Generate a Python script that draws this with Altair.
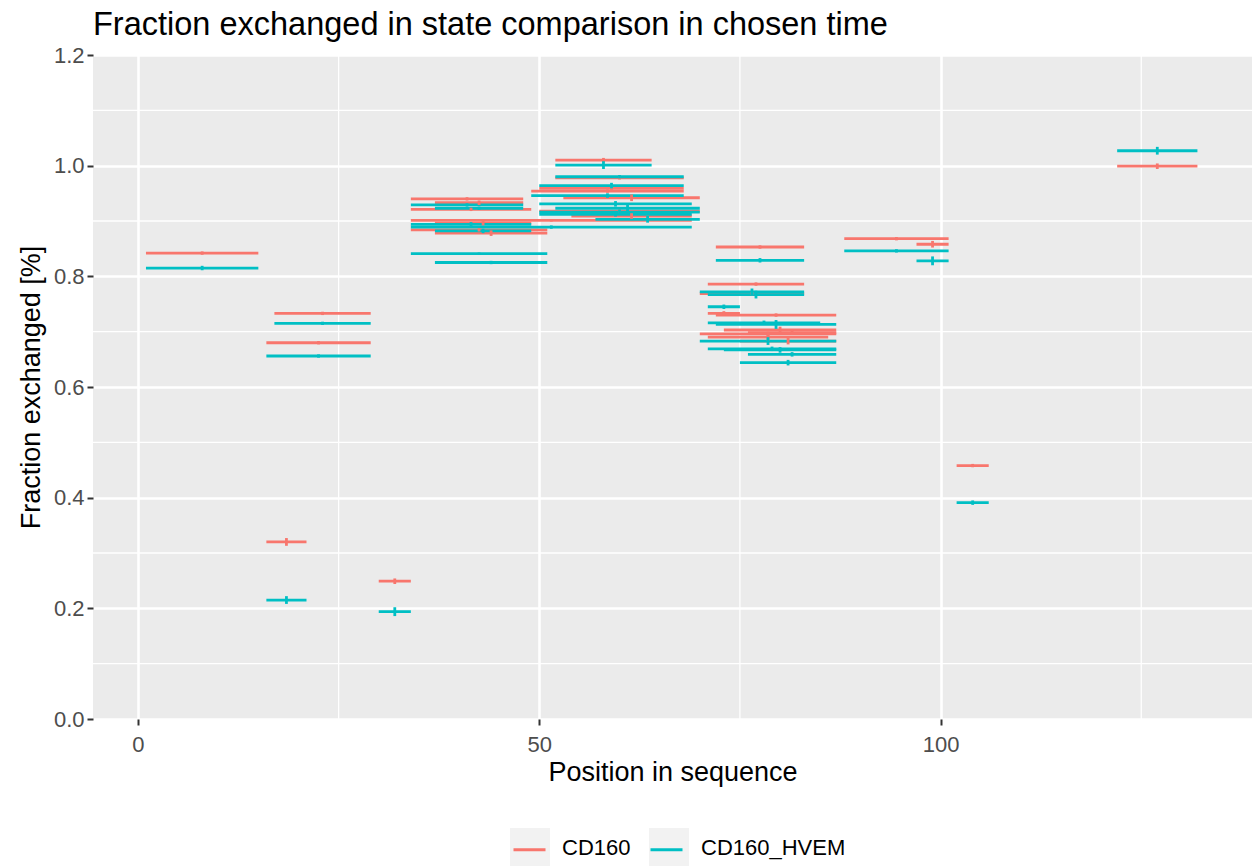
import altair as alt
import pandas as pd

title_text = "Fraction exchanged in state comparison in chosen time"
states = ["CD160", "CD160_HVEM"]
colors = ["#F8766D", "#00BFC4"]

# CD160 peptides: start, end, fraction exchanged, error
start_cd160 = [1, 17, 16, 16, 30, 34, 37, 34, 34, 37, 34, 37, 52, 52, 50, 49, 53, 50, 54,
               72, 71, 70, 71, 72, 73, 70, 76, 71, 75, 88, 97, 102, 122]
end_cd160 = [15, 29, 29, 21, 34, 48, 48, 49, 69, 49, 51, 51, 64, 68, 68, 68, 70, 70, 69,
             83, 83, 83, 75, 87, 87, 87, 87, 86, 87, 101, 101, 106, 132]
val_cd160 = [0.842, 0.733, 0.680, 0.320, 0.249, 0.940, 0.933, 0.921, 0.901, 0.896, 0.884, 0.878,
             1.010, 0.978, 0.959, 0.954, 0.942, 0.918, 0.909,
             0.853, 0.786, 0.769, 0.733, 0.730, 0.703, 0.696, 0.698, 0.690, 0.683,
             0.868, 0.858, 0.458, 0.999]
err_cd160 = [0.003, 0.003, 0.003, 0.007, 0.005, 0.003, 0.004, 0.003, 0.002, 0.004, 0.003, 0.005,
             0.004, 0.003, 0.003, 0.003, 0.006, 0.003, 0.005,
             0.003, 0.003, 0.003, 0.004, 0.003, 0.006, 0.004, 0.004, 0.007, 0.006,
             0.003, 0.006, 0.003, 0.005]

# CD160_HVEM peptides
start_hvem = [1, 17, 16, 16, 30, 34, 37, 34, 34, 37, 34, 37, 52, 52, 50, 49, 52, 50, 50, 50, 57,
              72, 70, 71, 71, 71, 72, 70, 71, 73, 76, 75, 88, 97, 102, 122]
end_hvem = [15, 29, 29, 21, 34, 48, 48, 49, 69, 49, 51, 51, 64, 68, 68, 68, 70, 70, 69, 69, 70,
            83, 83, 83, 75, 85, 87, 87, 87, 87, 87, 87, 101, 101, 106, 132]
val_hvem = [0.815, 0.715, 0.656, 0.215, 0.194, 0.929, 0.923, 0.894, 0.889, 0.882, 0.841, 0.825,
            1.001, 0.980, 0.964, 0.946, 0.923, 0.916, 0.931, 0.912, 0.903,
            0.829, 0.772, 0.767, 0.745, 0.716, 0.713, 0.683, 0.669, 0.667, 0.659, 0.644,
            0.846, 0.828, 0.391, 1.027]
err_hvem = [0.004, 0.003, 0.003, 0.007, 0.008, 0.003, 0.003, 0.004, 0.003, 0.004, 0.002, 0.003,
            0.007, 0.003, 0.005, 0.004, 0.006, 0.005, 0.005, 0.004, 0.006,
            0.004, 0.006, 0.007, 0.004, 0.004, 0.008, 0.007, 0.004, 0.005, 0.004, 0.005,
            0.003, 0.008, 0.004, 0.007]

x_ticks = [0, 50, 100]
y_ticks = [0.0, 0.2, 0.4, 0.6, 0.8, 1.0, 1.2]
minor_x = [25, 75, 125]
minor_y = [0.1, 0.3, 0.5, 0.7, 0.9, 1.1]

frames = []
for name, st, en, va, er in [
    (states[0], start_cd160, end_cd160, val_cd160, err_cd160),
    (states[1], start_hvem, end_hvem, val_hvem, err_hvem),
]:
    d = pd.DataFrame({"start": st, "end": en, "value": va, "err": er})
    d["state"] = name
    frames.append(d)
df = pd.concat(frames, ignore_index=True)
df["mid"] = (df["start"] + df["end"]) / 2
df["lo"] = df["value"] - df["err"]
df["hi"] = df["value"] + df["err"]
df["key"] = df["state"]

FONT = "Liberation Sans"
xscale = alt.Scale(domain=[-5.6, 138.8], nice=False, zero=False)
yscale = alt.Scale(domain=[0, 1.2], nice=False, zero=False)

ax_x = alt.Axis(values=x_ticks, title="Position in sequence", grid=True, gridColor="white",
                gridWidth=2.6, domain=False, tickColor="#333333", tickSize=6, tickWidth=2,
                labelColor="#4D4D4D", labelFontSize=22, labelFont=FONT, labelPadding=9,
                titleFontSize=27, titleFont=FONT, titleFontWeight="normal", titleColor="black",
                titlePadding=4)
ax_y = alt.Axis(values=y_ticks, format=".1f", title="Fraction exchanged [%]", grid=True,
                gridColor="white", gridWidth=2.6, domain=False, tickColor="#333333", tickSize=6,
                tickWidth=2, labelColor="#4D4D4D", labelFontSize=22, labelFont=FONT,
                labelPadding=3, titleFontSize=27, titleFont=FONT, titleFontWeight="normal",
                titleColor="black", titlePadding=8)

legend_common = dict(orient="none", legendY=773, direction="horizontal",
                     title=None, labelFontSize=22, labelFont=FONT, labelColor="black",
                     symbolSize=1600, labelOffset=12, padding=0)

minor_v = alt.Chart(pd.DataFrame({"x": minor_x})).mark_rule(
    color="white", strokeWidth=1.3).encode(
    x=alt.X("x:Q", scale=xscale, axis=ax_x, title="Position in sequence"))
minor_h = alt.Chart(pd.DataFrame({"y": minor_y})).mark_rule(
    color="white", strokeWidth=1.3).encode(
    y=alt.Y("y:Q", scale=yscale, axis=ax_y, title="Fraction exchanged [%]"))

# line-key legend (no text; the labels come from the grey key legend underneath)
color_enc = alt.Color("state:N", scale=alt.Scale(domain=states, range=colors),
                      legend=alt.Legend(symbolType="M-0.8,0H0.8", symbolStrokeWidth=3,
                                        labelExpr="''", columnPadding=81, legendX=415,
                                        zindex=1, **legend_common))

keys = alt.Chart(df).mark_square(size=0, opacity=0).encode(
    x=alt.X("mid:Q", scale=xscale, axis=ax_x, title="Position in sequence"),
    y=alt.Y("value:Q", scale=yscale, axis=ax_y, title="Fraction exchanged [%]"),
    fill=alt.Fill("key:N", scale=alt.Scale(range=["#F2F2F2", "#F2F2F2"]),
                  legend=alt.Legend(symbolType="square", symbolStrokeWidth=0, symbolOpacity=1,
                                    columnPadding=18, legendX=417, zindex=0, **legend_common)),
)

hbars = alt.Chart(df).mark_rule(strokeWidth=2.8).encode(
    x=alt.X("start:Q", scale=xscale, axis=ax_x, title="Position in sequence"),
    x2="end:Q",
    y=alt.Y("value:Q", scale=yscale, axis=ax_y, title="Fraction exchanged [%]"),
    color=color_enc,
)

vbars = alt.Chart(df).mark_rule(strokeWidth=2.8).encode(
    x=alt.X("mid:Q", scale=xscale, axis=ax_x, title="Position in sequence"),
    y=alt.Y("lo:Q", scale=yscale, axis=ax_y, title="Fraction exchanged [%]"),
    y2="hi:Q",
    color=color_enc,
)

chart = alt.layer(minor_v, minor_h, keys, hbars, vbars).properties(
    width=1159, height=664,
    background="white",
    autosize=alt.AutoSizeParams(type="none"),
    padding={"left": 93, "top": 55, "right": 0, "bottom": 147},
    title=alt.TitleParams(text=title_text, anchor="start", frame="group", fontSize=32.5,
                          font=FONT, fontWeight="normal", color="black", offset=3),
).configure_view(fill="#EBEBEB", strokeWidth=0)

chart.save("out.html", embed_options={"renderer": "svg", "actions": False})
